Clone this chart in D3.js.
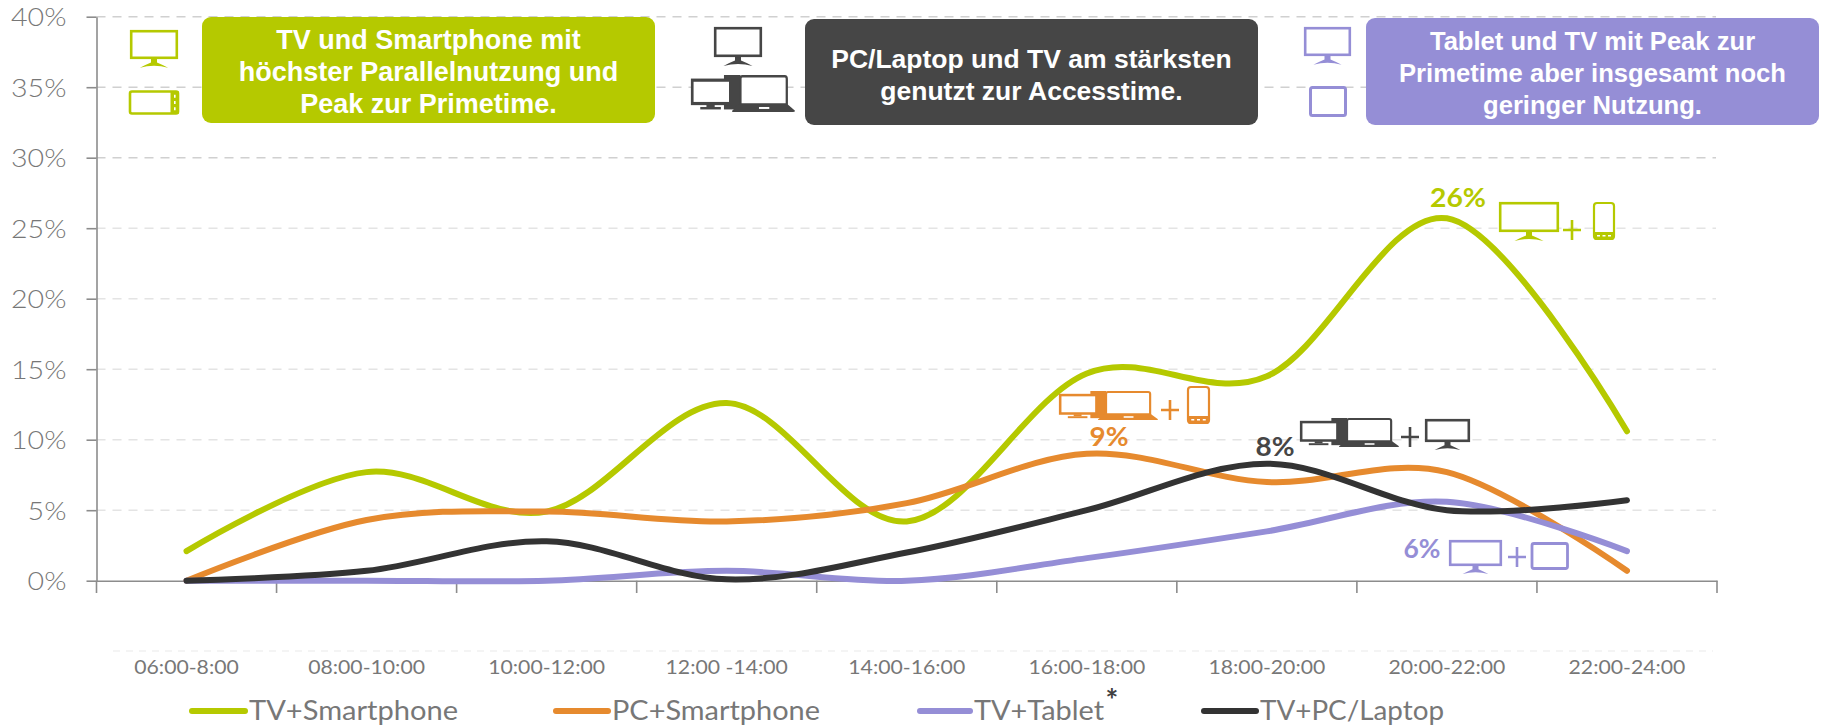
<!DOCTYPE html>
<html>
<head>
<meta charset="utf-8">
<script src="https://cdnjs.cloudflare.com/ajax/libs/d3/7.8.5/d3.min.js"></script>
<style>
  html, body { margin: 0; padding: 0; background: #fff; }
  svg { display: block; }
</style>
</head>
<body>
<svg id="chart" width="1824" height="726"></svg>
<script>
const slots = ["06:00-8:00", "08:00-10:00", "10:00-12:00", "12:00 -14:00", "14:00-16:00", "16:00-18:00", "18:00-20:00", "20:00-22:00", "22:00-24:00"];
const yTicks = [0, 5, 10, 15, 20, 25, 30, 35, 40];

const tvSmartphone = [2.1, 7.7, 4.9, 12.6, 4.2, 14.7, 14.5, 25.7, 10.6];
const pcSmartphone = [0, 4.3, 4.9, 4.2, 5.5, 9.0, 7.0, 7.7, 0.7];
const tvTablet = [0, 0, 0, 0.7, 0, 1.6, 3.5, 5.6, 2.1];
const tvLaptop = [0, 0.7, 2.8, 0.1, 2.0, 5.0, 8.3, 5.0, 5.7];

const GREEN = "#b5c900", ORANGE = "#e68a2e", PURPLE = "#958ed6", DARK = "#333333", BOX_DARK = "#464646";
const GREY = "#777777";

const series = [
  { name: "TV+Smartphone", values: tvSmartphone, color: GREEN },
  { name: "PC+Smartphone", values: pcSmartphone, color: ORANGE },
  { name: "TV+Tablet", values: tvTablet, color: PURPLE },
  { name: "TV+PC/Laptop", values: tvLaptop, color: DARK }
];

const svg = d3.select("#chart");
const x = d3.scaleBand().domain(slots).range([96.5, 1717]);
const y = d3.scaleLinear().domain([0, 40]).range([580.7, 16.7]);

// Calibri is narrower than Lato at the same height, this evens out the widths
function stretch(sel, k) {
  sel.each(function () {
    d3.select(this)
      .attr("textLength", this.getComputedTextLength() * k)
      .attr("lengthAdjust", "spacingAndGlyphs");
  });
}

// Gridlines, drawn first so the callouts sit on top
svg.append("g").selectAll("line")
  .data(yTicks.filter(d => d > 0))
  .enter().append("line")
  .attr("x1", 96.5).attr("x2", 1716)
  .attr("y1", d => y(d)).attr("y2", d => y(d))
  .attr("stroke", d => d >= 30 ? "#d0d0d0" : "#e4e4e4")
  .attr("stroke-width", 1.6)
  .attr("stroke-dasharray", "9,7");

// Faint line above the category labels
svg.append("line")
  .attr("x1", 113).attr("x2", 1713).attr("y1", 651).attr("y2", 651)
  .attr("stroke", "#f1f1f1").attr("stroke-width", 1.5).attr("stroke-dasharray", "7,6");

// Y axis
const yAxis = svg.append("g")
  .attr("transform", "translate(96.5,0)")
  .call(d3.axisLeft(y).tickValues(yTicks).tickFormat(d => d + "%").tickSize(10).tickSizeOuter(0));
yAxis.selectAll(".domain, .tick line").attr("stroke", "#8c8c8c").attr("stroke-width", 1.6);
yAxis.selectAll("text")
  .attr("x", -30)
  .attr("dy", "0.35em")
  .style("font-family", "Lato")
  .style("font-weight", 300)
  .style("font-size", "26px")
  .style("fill", GREY)
  .call(stretch, 1.1);

// X axis: labels sit lower than the line, ticks mark the band edges
const xAxis = svg.append("g")
  .attr("transform", "translate(0,580.7)")
  .call(d3.axisBottom(x).tickSize(0).tickSizeOuter(0));
xAxis.select(".domain").attr("stroke", "#8c8c8c").attr("stroke-width", 1.6);
xAxis.selectAll("text")
  .attr("y", 86)
  .attr("dy", "0.35em")
  .style("font-family", "Lato")
  .style("font-size", "20px")
  .style("fill", GREY)
  .call(stretch, 1.06);

svg.append("g").selectAll("line")
  .data(slots.concat("end"))
  .enter().append("line")
  .attr("x1", (d, i) => x.range()[0] + i * x.bandwidth())
  .attr("x2", (d, i) => x.range()[0] + i * x.bandwidth())
  .attr("y1", 580.7).attr("y2", 593)
  .attr("stroke", "#8c8c8c").attr("stroke-width", 1.6);

// Lines. Excel's smoothed lines are a uniform Catmull-Rom
const line = d3.line()
  .x((d, i) => x(slots[i]) + x.bandwidth() / 2)
  .y(d => y(d))
  .curve(d3.curveCatmullRom.alpha(0));

svg.append("g").selectAll("path")
  .data(series)
  .enter().append("path")
  .attr("d", d => line(d.values))
  .attr("fill", "none")
  .attr("stroke", d => d.color)
  .attr("stroke-width", 6)
  .attr("stroke-linecap", "round");

// Device icons
function monitor(g, x0, y0, w, h, color) {
  g.append("rect").attr("x", x0 + 1.2).attr("y", y0 + 1.2).attr("width", w - 2.4).attr("height", h - 2.4)
    .attr("fill", "#fff").attr("stroke", color).attr("stroke-width", 2.6);
  const cx = x0 + w / 2, s = Math.max(h * 0.3, 8);
  const sx = s * 1.9;
  g.append("path")
    .attr("d", `M${cx - 3},${y0 + h} L${cx + 3},${y0 + h} L${cx + 3},${y0 + h + s * 0.4} Q${cx + sx * 0.5},${y0 + h + s * 0.65} ${cx + sx * 0.85},${y0 + h + s} Q${cx},${y0 + h + s * 0.55} ${cx - sx * 0.85},${y0 + h + s} Q${cx - sx * 0.5},${y0 + h + s * 0.65} ${cx - 3},${y0 + h + s * 0.4} Z`)
    .attr("fill", color);
}

function phone(g, x0, y0, w, h, color) {
  g.append("rect").attr("x", x0 + 1).attr("y", y0 + 1).attr("width", w - 2).attr("height", h - 2).attr("rx", 3)
    .attr("fill", "#fff").attr("stroke", color).attr("stroke-width", 2.2);
  g.append("path")
    .attr("d", `M${x0 + 1},${y0 + h - 8} H${x0 + w - 1} V${y0 + h - 2} Q${x0 + w - 1},${y0 + h} ${x0 + w - 3},${y0 + h} H${x0 + 3} Q${x0 + 1},${y0 + h} ${x0 + 1},${y0 + h - 2} Z`)
    .attr("fill", color);
  [0.25, 0.5, 0.75].forEach(f => {
    g.append("rect").attr("x", x0 + w * f - 1.5).attr("y", y0 + h - 5).attr("width", 3).attr("height", 1.5).attr("fill", "#fff");
  });
}

function tablet(g, x0, y0, w, h, color, sw) {
  g.append("rect").attr("x", x0 + 1.5).attr("y", y0 + 1.5).attr("width", w - 3).attr("height", h - 3).attr("rx", 2)
    .attr("fill", "#fff").attr("stroke", color).attr("stroke-width", sw);
}

function sideTablet(g, x0, y0, w, h, color) {
  tablet(g, x0, y0, w, h, color, 2.6);
  g.append("rect").attr("x", x0 + w - 9).attr("y", y0 + 1).attr("width", 8).attr("height", h - 2).attr("fill", color);
  [0.25, 0.5, 0.75].forEach(f => {
    g.append("rect").attr("x", x0 + w - 5.5).attr("y", y0 + h * f - 1.5).attr("width", 1.6).attr("height", 3).attr("fill", "#fff");
  });
}

function desktop(g, x0, y0, sx, sy, color) {
  // monitor + tower + laptop as one group, about 100 wide and 30 high before scaling
  const d = g.append("g").attr("transform", `translate(${x0},${y0}) scale(${sx},${sy})`);
  d.append("rect").attr("x", 32).attr("y", 0).attr("width", 16).attr("height", 28).attr("fill", color);
  d.append("rect").attr("x", 1.2).attr("y", 4.2).attr("width", 37).attr("height", 19).attr("fill", "#fff").attr("stroke", color).attr("stroke-width", 2.6);
  d.append("rect").attr("x", 15).attr("y", 24).attr("width", 8).attr("height", 2).attr("fill", color);
  d.append("rect").attr("x", 9).attr("y", 26).attr("width", 20).attr("height", 2).attr("fill", color);
  d.append("path").attr("d", "M48,3 Q48,1 50,1 H91 Q93,1 93,3 V24 H48 Z").attr("fill", "#fff").attr("stroke", color).attr("stroke-width", 2.2);
  d.append("path").attr("d", "M46,24 H94 L101,29 Q101,30 99,30 H41 Q39,30 40,29 Z").attr("fill", color);
  d.append("rect").attr("x", 66).attr("y", 26).attr("width", 10).attr("height", 1.6).attr("fill", "#fff");
}

function plus(g, cx, cy, color) {
  g.append("path").attr("d", `M${cx - 9},${cy} H${cx + 9} M${cx},${cy - 10} V${cy + 10}`)
    .attr("stroke", color).attr("stroke-width", 2.6).attr("fill", "none");
}

function boldLabel(g, text, cx, cy, color, len) {
  g.append("text").attr("x", cx).attr("y", cy).attr("dy", "0.35em")
    .attr("text-anchor", "middle")
    .attr("textLength", len).attr("lengthAdjust", "spacingAndGlyphs")
    .style("font-family", "Lato").style("font-weight", 700).style("font-size", "27px")
    .style("fill", color).text(text);
}

// Callouts
const callouts = [
  { x0: 202, x1: 655, y0: 17, y1: 123, color: GREEN, size: 27, lines: ["TV und Smartphone mit", "höchster Parallelnutzung und", "Peak zur Primetime."], ys: [40, 72, 104] },
  { x0: 805, x1: 1258, y0: 19, y1: 125, color: BOX_DARK, size: 26.5, lines: ["PC/Laptop und TV am stärksten", "genutzt zur Accesstime."], ys: [59, 91] },
  { x0: 1366, x1: 1819, y0: 18, y1: 125, color: PURPLE, size: 25.6, lines: ["Tablet und TV mit Peak zur", "Primetime aber insgesamt noch", "geringer Nutzung."], ys: [41, 73, 105] }
];

const notes = svg.append("g");
callouts.forEach(c => {
  notes.append("rect").attr("x", c.x0).attr("y", c.y0).attr("width", c.x1 - c.x0).attr("height", c.y1 - c.y0)
    .attr("rx", 9).attr("fill", c.color);
  c.lines.forEach((t, i) => {
    notes.append("text").attr("x", (c.x0 + c.x1) / 2).attr("y", c.ys[i]).attr("dy", "0.35em")
      .attr("text-anchor", "middle")
      .style("font-family", "'Liberation Sans'").style("font-weight", 700).style("font-size", c.size + "px")
      .style("fill", "#fff").text(t);
  });
});

const icons = svg.append("g");
monitor(icons, 130, 30, 48, 29, GREEN);
sideTablet(icons, 128.5, 90, 51, 25, GREEN);
monitor(icons, 714, 27, 48, 30, BOX_DARK);
desktop(icons, 691, 75, 1.03, 1.23, BOX_DARK);
monitor(icons, 1304, 27, 47, 29, PURPLE);
tablet(icons, 1309, 86, 38, 31, PURPLE, 3);

// Peak annotations
boldLabel(icons, "26%", 1458, 198, GREEN, 56);
monitor(icons, 1499, 202, 60, 30, GREEN);
plus(icons, 1572, 230, GREEN);
phone(icons, 1593, 202, 22, 38, GREEN);

desktop(icons, 1059, 391, 0.98, 0.97, ORANGE);
plus(icons, 1170, 410, ORANGE);
phone(icons, 1187, 386, 23, 38, ORANGE);
boldLabel(icons, "9%", 1109, 437, ORANGE, 39);

desktop(icons, 1300, 418, 0.98, 0.97, BOX_DARK);
plus(icons, 1410, 437, BOX_DARK);
monitor(icons, 1425, 419, 45, 23, BOX_DARK);
boldLabel(icons, "8%", 1275, 447, BOX_DARK, 39);

boldLabel(icons, "6%", 1422, 549, PURPLE, 37);
monitor(icons, 1449, 540, 53, 26, PURPLE);
plus(icons, 1517, 557, PURPLE);
tablet(icons, 1530.5, 542, 38.5, 28, PURPLE, 2.8);

// Legend
const legendX = [190, 554, 918, 1202];
const legendLen = [209, 208, 130, 184];
const legendW = [57, 56, 54, 56];
const legend = svg.append("g").selectAll("g")
  .data(series)
  .enter().append("g")
  .attr("transform", (d, i) => `translate(${legendX[i]},711)`);
legend.append("line")
  .attr("x1", 2).attr("x2", (d, i) => legendW[i] - 2)
  .attr("stroke", d => d.color).attr("stroke-width", 6).attr("stroke-linecap", "round");
legend.append("text")
  .attr("x", (d, i) => legendW[i] + 2)
  .attr("dy", "0.35em")
  .attr("textLength", (d, i) => legendLen[i]).attr("lengthAdjust", "spacingAndGlyphs")
  .style("font-family", "Lato").style("font-size", "26px").style("fill", GREY)
  .text(d => d.name);
svg.append("text").attr("x", 1112).attr("y", 711)
  .attr("text-anchor", "middle")
  .style("font-family", "Lato").style("font-weight", 700).style("font-size", "30px").style("fill", "#404040").text("*");
</script>
</body>
</html>
